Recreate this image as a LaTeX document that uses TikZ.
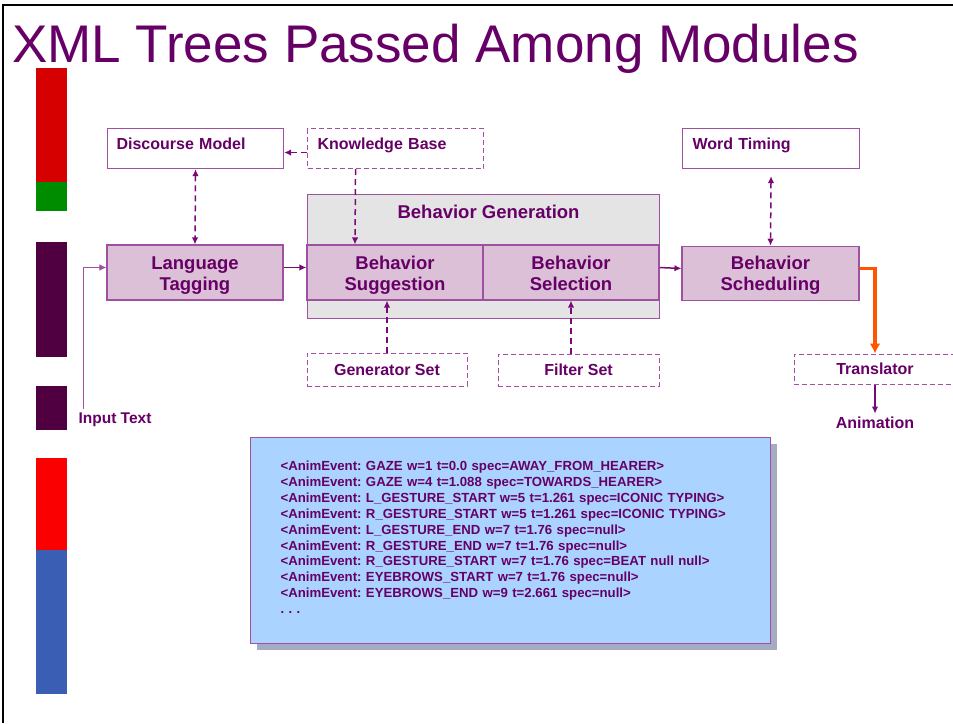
\documentclass[tikz,border=0pt]{standalone}
\usepackage{fontspec}
\setmainfont{Liberation Sans}
\usetikzlibrary{arrows.meta,shadows}
\definecolor{ttl}{RGB}{102,0,102}
\definecolor{edge}{RGB}{160,80,160}
\definecolor{wire}{RGB}{120,10,120}
\definecolor{modfill}{RGB}{220,192,215}
\definecolor{genfill}{RGB}{228,228,228}
\definecolor{codefill}{RGB}{170,212,255}
\definecolor{shade}{RGB}{105,115,155}
\definecolor{hot}{RGB}{255,85,0}
\definecolor{barred}{RGB}{214,0,0}
\definecolor{bargreen}{RGB}{0,140,0}
\definecolor{barplum}{RGB}{80,0,64}
\definecolor{barbright}{RGB}{250,0,0}
\definecolor{barblue}{RGB}{58,94,180}
\frenchspacing

\begin{document}
\begin{tikzpicture}[x=1pt,y=-1pt]
      \tikzstyle{every node}+=[text=ttl]
      \tikzstyle{module}=[draw=edge, fill=modfill, line width=1.1pt, text width=176pt, align=center, inner sep=0pt, text height=24pt, text depth=31pt, font=\bfseries\fontsize{18.5}{21}\selectfont]
      \tikzstyle{store}=[draw=edge, fill=white, line width=1.1pt, anchor=north west, inner xsep=9pt, inner ysep=0pt, text width=158pt, align=left, text height=21pt, text depth=19pt, font=\bfseries\fontsize{16}{19}\selectfont]
      \tikzstyle{resource}=[draw=edge, line width=1pt, dash pattern=on 5pt off 3pt, inner sep=0pt, font=\bfseries\fontsize{16}{19}\selectfont]
      \tikzstyle{link}=[draw=wire, line width=1.5pt, -{Latex[length=7pt,width=6.5pt]}]
      \tikzstyle{dlink}=[link, dash pattern=on 6pt off 4pt]
      \tikzstyle{twoway}=[{Latex[length=7pt,width=6.5pt]}-{Latex[length=7pt,width=6.5pt]}]
      \useasboundingbox (0,0) rectangle (953,723);
      \draw [line width=2.2pt] (3,723) -- (3,5) -- (953,5);
      \node [anchor=base west, inner sep=0pt, font=\fontsize{53}{60}\selectfont] (title) at (12,62) {XML Trees Passed Among Modules};
      \fill [barred] (36,68) rectangle (67,182);
      \fill [bargreen] (36,182) rectangle (67,211);
      \fill [barplum] (36,242) rectangle (67,357);
      \fill [barplum] (36,386) rectangle (67,430);
      \fill [barbright] (36,458) rectangle (67,550);
      \fill [barblue] (36,550) rectangle (67,694);
      \node [store] (dm) at (107,128) {Discourse Model};
      \node [store, dash pattern=on 5pt off 3pt, inner xsep=10pt, text width=156pt] (kb) at (307,128) {Knowledge Base};
      \node [store, inner xsep=10pt, text width=157pt] (wt) at (682,128) {Word Timing};
      \node [module] (lt) at (195,272.5) {Language\\Tagging};
      \node [draw=edge, fill=genfill, line width=1.1pt, anchor=north west, minimum width=352pt, inner sep=0pt, text height=24pt, text depth=100pt, font=\bfseries\fontsize{18.5}{21}\selectfont] (gen) at (307,194) {\hspace{10pt}Behavior Generation};
      \node [module] (sug) at (395,272.5) {Behavior\\Suggestion};
      \node [module] (sel) at (571,272.5) {Behavior\\Selection};
      \node [module, text width=177pt, text height=23.5pt] (sch) at (770.5,273.5) {Behavior\\Scheduling};
      \node [resource, minimum width=160pt, minimum height=33pt] (gset) at (387,369.5) {Generator Set};
      \node [resource, minimum width=161pt, minimum height=32pt] (fset) at (578.5,370) {Filter Set};
      \node [resource, minimum width=162pt, minimum height=30pt] (tr) at (875,369) {Translator};
      \node [font=\bfseries\fontsize{16}{19}\selectfont] (anim) at (875,423) {Animation};
      \node [font=\bfseries\fontsize{15.5}{18}\selectfont] (intext) at (115,420) {Input Text};
      \coordinate (inp) at (83,409);
      \node [draw=edge, fill=codefill, line width=1.1pt, anchor=north west, inner xsep=30pt, inner ysep=0pt, text width=460pt, align=left, text height=33pt, text depth=173pt, drop shadow={shadow xshift=6pt, shadow yshift=-6pt, fill=shade, opacity=.6}, font=\bfseries\fontsize{13.2}{15.9}\selectfont] (code) at (250,437) {<AnimEvent: GAZE w=1 t=0.0 spec=AWAY\_FROM\_HEARER>\\
<AnimEvent: GAZE w=4 t=1.088 spec=TOWARDS\_HEARER>\\
<AnimEvent: L\_GESTURE\_START w=5 t=1.261 spec=ICONIC TYPING>\\
<AnimEvent: R\_GESTURE\_START w=5 t=1.261 spec=ICONIC TYPING>\\
<AnimEvent: L\_GESTURE\_END w=7 t=1.76 spec=null>\\
<AnimEvent: R\_GESTURE\_END w=7 t=1.76 spec=null>\\
<AnimEvent: R\_GESTURE\_START w=7 t=1.76 spec=BEAT null null>\\
<AnimEvent: EYEBROWS\_START w=7 t=1.76 spec=null>\\
<AnimEvent: EYEBROWS\_END w=9 t=2.661 spec=null>\\
. . .};
      \draw [dlink] ([yshift=-4pt]kb.west) -- ([yshift=-4pt]dm.east);
      \draw [dlink, twoway] (dm.south) -- (lt.north);
      \draw [dlink] ([xshift=-40pt]kb.south) -- ([xshift=-40pt]sug.north);
      \draw [link] ([yshift=5pt]lt.east) -- ([yshift=5pt]sug.west);
      \draw [link, draw=edge, line width=1pt] (inp) |- ([yshift=5pt]lt.west);
      \draw [dlink] (gset.north) -- (gset.north |- sug.south);
      \draw [dlink] (sel.south |- fset.north) -- (sel.south);
      \draw [link] ([yshift=5pt]sel.east) -- ([yshift=5pt]sch.west);
      \draw [dlink, twoway] ([yshift=-7pt]wt.south) -- (sch.north);
      \draw [draw=hot, line width=3.5pt, -{Latex[length=10pt,width=11pt]}] ([yshift=5pt]sch.east) -| (tr.north);
      \draw [link] (tr.south) -- (anim.north);
    \end{tikzpicture}
\end{document}
